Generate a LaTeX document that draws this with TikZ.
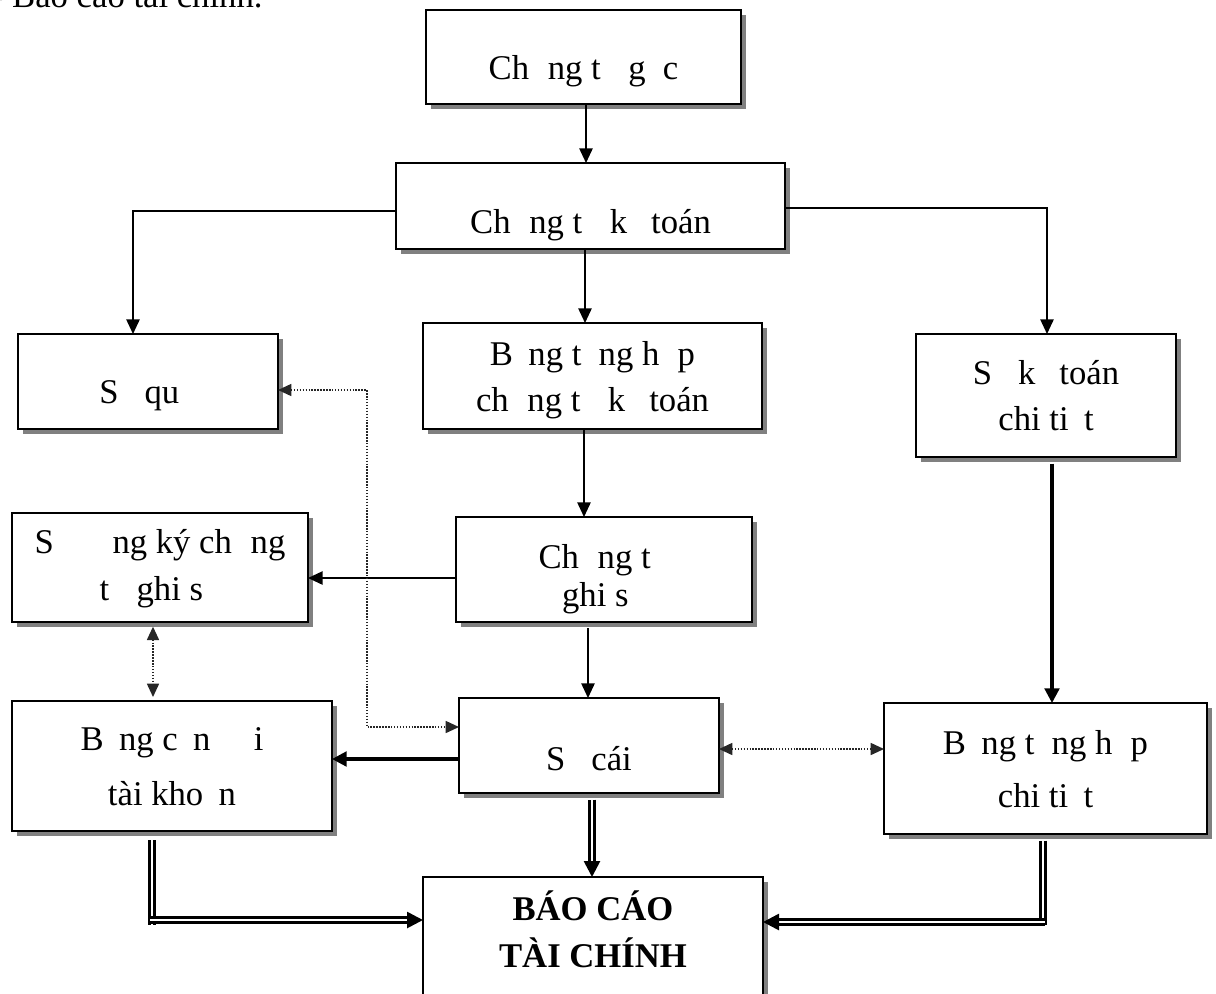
\documentclass[tikz,border=0pt]{standalone}
\usepackage{fontspec}
\setmainfont{Liberation Serif}
\usetikzlibrary{arrows.meta,shadows}
% a glyph the font could not show: keep its width, print nothing
\newcommand\miss[1]{\phantom{#1}}

\tikzset{
  box/.style={draw, line width=1.4pt, fill=white, inner sep=0pt, outer sep=0pt,
    drop shadow={shadow xshift=4pt, shadow yshift=-4pt, fill=black!50, opacity=1}},
  wh/.style 2 args={minimum width=#1*0.75pt, minimum height=#2*0.75pt},
  lbl/.style={anchor=base, inner sep=0pt, outer sep=0pt, font=\fontsize{26}{30}\selectfont},
  arr/.style={line width=1.2pt, -{Triangle[length=11pt,width=10pt]}},
  thickarr/.style={line width=2.4pt, -{Triangle[length=11pt,width=11pt]}},
  dotline/.style={line width=1.2pt, dash pattern=on 1.1pt off 1.1pt, black!85},
  dotarr/.style={dotline, {Triangle[length=10pt,width=9pt]}-{Triangle[length=10pt,width=9pt]}},
  dbl/.style={double, double distance=1.8pt, line width=2pt},
  dblarr/.style={dbl, -{Triangle[length=12pt,width=12pt]}},
}

\begin{document}
\begin{tikzpicture}[x=0.75pt,y=-0.75pt]
\useasboundingbox (0,0) rectangle (1216,993);
\clip (0,0) rectangle (1216,993);

% heading line above the chart
\node[lbl, anchor=base west] (head) at (-8,7) {- Báo cáo tài chính.};

% boxes
\node[box, wh={315}{94}]  (goc)   at (583.5,57)   {};
\node[box, wh={389}{86}]  (ctkt)  at (590.5,206)  {};
\node[box, wh={260}{95}]  (squy)  at (148,381.5)  {};
\node[box, wh={339}{106}] (thct)  at (592.5,376)  {};
\node[box, wh={260}{123}] (sktct) at (1046,395.5) {};
\node[box, wh={296}{109}] (sdk)   at (160,567.5)  {};
\node[box, wh={296}{105}] (ctgs)  at (604,569.5)  {};
\node[box, wh={320}{130}] (bcd)   at (172,766)    {};
\node[box, wh={260}{95}]  (socai) at (589,745.5)  {};
\node[box, wh={323}{131}] (thcht) at (1045.5,768.5) {};
\node[box, wh={340}{133}] (bctc)  at (593,943.5)  {};

% labels
\node[lbl] (tgoc) at (583.5,79) {Ch\miss{ứ}ng t\miss{ừ} g\miss{ố}c};
\node[lbl] (tctkt) at (590.5,233) {Ch\miss{ứ}ng t\miss{ừ} k\miss{ế} toán};
\node[lbl] (tsquy) at (148,403) {S\miss{ổ} qu\miss{ỹ}};
\node[lbl] (tthct1) at (592.5,365) {B\miss{ả}ng t\miss{ổ}ng h\miss{ợ}p};
\node[lbl] (tthct2) at (592.5,411) {ch\miss{ứ}ng t\miss{ừ} k\miss{ế} toán};
\node[lbl] (tsktct1) at (1046,384) {S\miss{ổ} k\miss{ế} toán};
\node[lbl] (tsktct2) at (1046,430) {chi ti\miss{ế}t};
\node[lbl] (tsdk1) at (160,553) {S\miss{ổ} \miss{đă}ng ký ch\miss{ứ}ng};
\node[lbl] (tsdk2) at (160,600) {t\miss{ừ} ghi s\miss{ổ}};
\node[lbl] (tctgs1) at (604,568) {Ch\miss{ứ}ng t\miss{ừ}};
\node[lbl] (tctgs2) at (604,606) {ghi s\miss{ổ}};
\node[lbl] (tbcd1) at (172,750) {B\miss{ả}ng c\miss{â}n \miss{đố}i};
\node[lbl] (tbcd2) at (172,805) {tài kho\miss{ả}n};
\node[lbl] (tsocai) at (589,770) {S\miss{ổ} cái};
\node[lbl] (tthcht1) at (1045.5,754) {B\miss{ả}ng t\miss{ổ}ng h\miss{ợ}p};
\node[lbl] (tthcht2) at (1045.5,807) {chi ti\miss{ế}t};
\node[lbl] (tbctc1) at (593,920) {\textbf{BÁO CÁO}};
\node[lbl] (tbctc2) at (593,967) {\textbf{TÀI CHÍNH}};

% connector columns and rows
\coordinate (c586) at (586,0);
\coordinate (c585) at (585,0);
\coordinate (c584) at (584,0);
\coordinate (c588) at (588,0);
\coordinate (c1052) at (1052,0);
\coordinate (c153) at (153,0);
\coordinate (c592) at (592,0);
\coordinate (jl) at (133,211);
\coordinate (jr) at (1047,208);
\coordinate (r578) at (0,578);
\coordinate (r759) at (0,759);
\coordinate (r749) at (0,749);
\coordinate (d1) at (367,390);
\coordinate (d2) at (367,727);
\coordinate (lv) at (152,925);
\coordinate (lh) at (150,920);
\coordinate (rv) at (1043,925);
\coordinate (rh) at (1045,922);

% solid arrows
\draw[arr] (goc.south -| c586) -- (ctkt.north -| c586);
\draw[arr] (ctkt.west |- jl) -| (squy.north -| jl);
\draw[arr] (ctkt.east |- jr) -| (sktct.north -| jr);
\draw[arr] (ctkt.south -| c585) -- (thct.north -| c585);
\draw[arr] (thct.south -| c584) -- (ctgs.north -| c584);
\draw[arr] (ctgs.west |- r578) -- (sdk.east |- r578);
\draw[arr, shorten <=4.5pt] (ctgs.south -| c588) -- (socai.north -| c588);
\draw[thickarr, shorten <=5pt] (sktct.south -| c1052) -- (thcht.north -| c1052);
\draw[thickarr] (socai.west |- r759) -- (bcd.east |- r759);

% dotted two-way links
\draw[dotarr, shorten <=3.5pt, shorten >=3pt] (sdk.south -| c153) -- (bcd.north -| c153);
\draw[dotarr] (squy.east |- d1) -- (d1) -- (d2) -- (socai.west |- d2);
\draw[dotarr] (socai.east |- r749) -- (thcht.west |- r749);

% double arrows into the report
\draw[dblarr, shorten <=5pt] (socai.south -| c592) -- (bctc.north -| c592);
\draw[dbl, shorten <=7pt] (bcd.south -| lv) -- (lv);
\draw[dblarr] (lh) -- (bctc.west |- lh);
\draw[dbl, shorten <=5pt] (thcht.south -| rv) -- (rv);
\draw[dblarr] (rh) -- (bctc.east |- rh);
\end{tikzpicture}
\end{document}
